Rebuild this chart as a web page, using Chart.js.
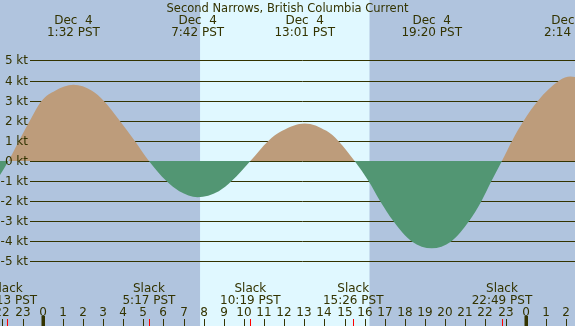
<!DOCTYPE html>
<html>
<head>
<meta charset="utf-8">
<script src="https://cdn.jsdelivr.net/npm/chart.js@4.4.1/dist/chart.umd.min.js"></script>
<style>
  html, body { margin: 0; padding: 0; background: #b0c4de; }
  canvas { display: block; }
</style>
</head>
<body>
<canvas id="current-chart" width="575" height="326"></canvas>
<script>
// Hours from midnight Dec 4 (PST) and current speed in knots
const hours = [-2.6, -2.12, -1.70, -1.18, -0.64, -0.05, 0.62, 1.53, 2.45, 3.03, 3.83, 4.58, 5.28,
    6.15, 6.79, 7.70, 8.75, 9.39, 10.32,
    11.21, 11.9, 13.02, 14.1, 14.69, 15.50,
    16.19, 16.77, 17.43, 18.34, 19.33, 20.3, 21.18, 21.8, 22.3, 22.82,
    23.32, 23.9, 24.61, 25.67, 26.23, 26.8];
const speeds = [-1.4, -0.7, 0, 1, 2, 3, 3.5, 3.79, 3.5, 3, 2, 1, 0,
    -1, -1.5, -1.8, -1.5, -1, 0,
    1, 1.5, 1.87, 1.5, 1, 0,
    -1, -2, -3, -4, -4.34, -4, -3, -2, -1, 0,
    1, 2, 3, 4, 4.2, 4.1];

const extremeHours = [1.53, 7.70, 13.02, 19.33, 26.23];
const extremeLabels = ['1:32 PST', '7:42 PST', '13:01 PST', '19:20 PST', '2:14 PST'];
const slackHours = [-1.78, 5.28, 10.32, 15.43, 22.82];
const slackLabels = ['22:13 PST', '5:17 PST', '10:19 PST', '15:26 PST', '22:49 PST'];
const dayBand = [7.82, 16.24];
const ktTicks = [5, 4, 3, 2, 1, 0, -1, -2, -3, -4, -5];
const hourTicks = [-2, -1, 0, 1, 2, 3, 4, 5, 6, 7, 8, 9, 10, 11, 12, 13, 14, 15, 16, 17, 18, 19, 20, 21, 22, 23, 24, 25, 26];

const TITLE = 'Second Narrows, British Columbia Current';
const INK = '#333300';
const FONT = '12px "DejaVu Sans", sans-serif';

const backdrop = {
    id: 'backdrop',
    beforeDatasetsDraw(chart) {
        const ctx = chart.ctx;
        const x = chart.scales.x, y = chart.scales.y;
        ctx.save();
        ctx.fillStyle = '#b0c4de';
        ctx.fillRect(0, 0, chart.width, chart.height);
        ctx.fillStyle = '#e0f8ff';
        const x0 = x.getPixelForValue(dayBand[0]);
        const x1 = x.getPixelForValue(dayBand[1]);
        ctx.fillRect(x0, 0, x1 - x0, chart.height);
        ctx.strokeStyle = INK;
        ctx.lineWidth = 1;
        ktTicks.forEach(v => {
            const py = Math.round(y.getPixelForValue(v)) + 0.5;
            ctx.beginPath();
            ctx.moveTo(30, py);
            ctx.lineTo(chart.width, py);
            ctx.stroke();
        });
        ctx.restore();
    },
    afterDatasetsDraw(chart) {
        const ctx = chart.ctx;
        const x = chart.scales.x, y = chart.scales.y;
        ctx.save();
        ctx.fillStyle = INK;
        ctx.textBaseline = 'alphabetic';

        // knot labels
        ctx.font = FONT;
        ctx.textAlign = 'right';
        ktTicks.forEach(v => {
            ctx.fillText(v + ' kt', 28, Math.round(y.getPixelForValue(v)) + 4);
        });

        // title and max/min times
        ctx.textAlign = 'center';
        ctx.font = '11.5px "DejaVu Sans", sans-serif';
        ctx.fillText(TITLE, chart.width / 2, 12);
        ctx.font = FONT;
        extremeHours.forEach((h, i) => {
            const px = x.getPixelForValue(h);
            ctx.fillText('Dec  4', px, 24);
            ctx.fillText(extremeLabels[i], px, 36);
        });

        // slack times
        slackHours.forEach((h, i) => {
            const px = x.getPixelForValue(h);
            ctx.fillText('Slack', px, 292);
            ctx.fillText(slackLabels[i], px, 304);
        });

        // hour labels and ticks
        hourTicks.forEach(h => {
            const px = Math.round(x.getPixelForValue(h));
            ctx.fillStyle = INK;
            ctx.fillText(String((h + 24) % 24), px, 316);
            if ((h + 24) % 24 === 0) {
                ctx.fillRect(px - 1.5, 316, 3.5, 10);
            } else {
                ctx.fillRect(px, 319, 1, 7);
            }
        });
        ctx.fillStyle = '#ff0000';
        slackHours.forEach(h => {
            const px = Math.round(x.getPixelForValue(h));
            ctx.fillRect(px, 319, 1, 7);
        });
        ctx.restore();
    }
};

const ctx = document.getElementById('current-chart').getContext('2d');
new Chart(ctx, {
    type: 'line',
    data: {
        datasets: [{
            data: hours.map((h, i) => ({ x: h, y: speeds[i] })),
            borderWidth: 0,
            borderColor: 'transparent',
            pointRadius: 0,
            cubicInterpolationMode: 'monotone',
            fill: {
                target: 'origin',
                above: '#bd9c7b',
                below: '#529673'
            }
        }]
    },
    options: {
        responsive: false,
        animation: false,
        devicePixelRatio: 1,
        layout: { padding: 0 },
        scales: {
            x: { type: 'linear', min: -2.12, max: 26.45, display: false },
            y: { min: -8.21, max: 8.01, display: false }
        },
        plugins: {
            legend: { display: false },
            tooltip: { enabled: false }
        }
    },
    plugins: [backdrop]
});
</script>
</body>
</html>
